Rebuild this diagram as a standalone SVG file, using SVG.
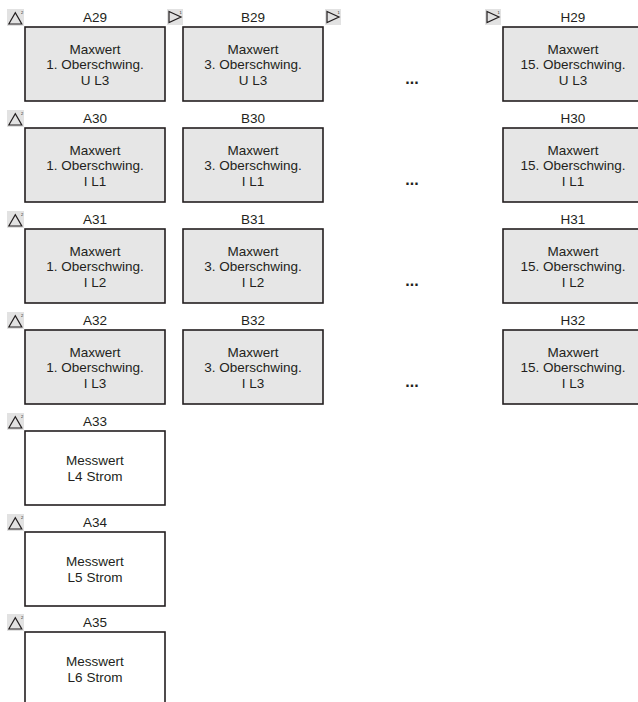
<svg xmlns="http://www.w3.org/2000/svg" width="638" height="702" viewBox="0 0 638 702">
<style>
.box{fill:#e6e6e6;stroke:#231f20;stroke-width:1.6}
.wbox{fill:#ffffff;stroke:#231f20;stroke-width:1.6}
.t{font-family:"Liberation Sans",Arial,sans-serif;font-size:13.5px;fill:#231f20;text-anchor:middle}
.lbl{font-family:"Liberation Sans",Arial,sans-serif;font-size:13.5px;fill:#231f20;text-anchor:middle}
.dots{font-family:"Liberation Sans",Arial,sans-serif;font-size:16px;font-weight:bold;fill:#231f20;text-anchor:middle}
.ibg{fill:#e2e2e2}
.tri{fill:none;stroke:#231f20;stroke-width:1.2}
.sup{font-family:"Liberation Sans",Arial,sans-serif;font-size:4px;fill:#231f20}
</style>
<defs>
<g id="up"><rect class="ibg" x="0" y="0" width="17" height="17"/><path class="tri" d="M1.8,15 L8.3,3.8 L14.8,15 Z"/><text class="sup" x="14" y="5">2</text></g>
<g id="rt"><rect class="ibg" x="0" y="0" width="16" height="16"/><path class="tri" d="M2,2.5 L14,8 L2,13.5 Z"/><text class="sup" x="12.5" y="5">1</text></g>
</defs>
<rect width="638" height="702" fill="#ffffff"/>
<g id="icons">
<use href="#up" x="7" y="9"/><use href="#rt" x="167" y="9"/><use href="#rt" x="325" y="9"/><use href="#rt" x="485" y="9"/>
<use href="#up" x="7" y="110"/><use href="#up" x="7" y="211"/><use href="#up" x="7" y="312"/><use href="#up" x="7" y="413"/><use href="#up" x="7" y="514"/><use href="#up" x="7" y="614"/>
</g>
<g id="A29"><text class="lbl" x="95" y="22">A29</text><rect class="box" x="25" y="27" width="140" height="74"/><text class="t" x="95" y="53.5">Maxwert</text><text class="t" x="95" y="69">1. Oberschwing.</text><text class="t" x="95" y="84.5">U L3</text></g>
<g id="B29"><text class="lbl" x="253" y="22">B29</text><rect class="box" x="183" y="27" width="140" height="74"/><text class="t" x="253" y="53.5">Maxwert</text><text class="t" x="253" y="69">3. Oberschwing.</text><text class="t" x="253" y="84.5">U L3</text></g>
<g id="H29"><text class="lbl" x="573" y="22">H29</text><rect class="box" x="503" y="27" width="140" height="74"/><text class="t" x="573" y="53.5">Maxwert</text><text class="t" x="573" y="69">15. Oberschwing.</text><text class="t" x="573" y="84.5">U L3</text></g>
<text class="dots" x="412" y="84">...</text>
<g id="A30"><text class="lbl" x="95" y="123">A30</text><rect class="box" x="25" y="128" width="140" height="74"/><text class="t" x="95" y="154.5">Maxwert</text><text class="t" x="95" y="170">1. Oberschwing.</text><text class="t" x="95" y="185.5">I L1</text></g>
<g id="B30"><text class="lbl" x="253" y="123">B30</text><rect class="box" x="183" y="128" width="140" height="74"/><text class="t" x="253" y="154.5">Maxwert</text><text class="t" x="253" y="170">3. Oberschwing.</text><text class="t" x="253" y="185.5">I L1</text></g>
<g id="H30"><text class="lbl" x="573" y="123">H30</text><rect class="box" x="503" y="128" width="140" height="74"/><text class="t" x="573" y="154.5">Maxwert</text><text class="t" x="573" y="170">15. Oberschwing.</text><text class="t" x="573" y="185.5">I L1</text></g>
<text class="dots" x="412" y="185">...</text>
<g id="A31"><text class="lbl" x="95" y="224">A31</text><rect class="box" x="25" y="229" width="140" height="74"/><text class="t" x="95" y="255.5">Maxwert</text><text class="t" x="95" y="271">1. Oberschwing.</text><text class="t" x="95" y="286.5">I L2</text></g>
<g id="B31"><text class="lbl" x="253" y="224">B31</text><rect class="box" x="183" y="229" width="140" height="74"/><text class="t" x="253" y="255.5">Maxwert</text><text class="t" x="253" y="271">3. Oberschwing.</text><text class="t" x="253" y="286.5">I L2</text></g>
<g id="H31"><text class="lbl" x="573" y="224">H31</text><rect class="box" x="503" y="229" width="140" height="74"/><text class="t" x="573" y="255.5">Maxwert</text><text class="t" x="573" y="271">15. Oberschwing.</text><text class="t" x="573" y="286.5">I L2</text></g>
<text class="dots" x="412" y="286">...</text>
<g id="A32"><text class="lbl" x="95" y="325">A32</text><rect class="box" x="25" y="330" width="140" height="74"/><text class="t" x="95" y="356.5">Maxwert</text><text class="t" x="95" y="372">1. Oberschwing.</text><text class="t" x="95" y="387.5">I L3</text></g>
<g id="B32"><text class="lbl" x="253" y="325">B32</text><rect class="box" x="183" y="330" width="140" height="74"/><text class="t" x="253" y="356.5">Maxwert</text><text class="t" x="253" y="372">3. Oberschwing.</text><text class="t" x="253" y="387.5">I L3</text></g>
<g id="H32"><text class="lbl" x="573" y="325">H32</text><rect class="box" x="503" y="330" width="140" height="74"/><text class="t" x="573" y="356.5">Maxwert</text><text class="t" x="573" y="372">15. Oberschwing.</text><text class="t" x="573" y="387.5">I L3</text></g>
<text class="dots" x="412" y="387">...</text>
<g id="A33"><text class="lbl" x="95" y="426">A33</text><rect class="wbox" x="25" y="431" width="140" height="74"/><text class="t" x="95" y="465">Messwert</text><text class="t" x="95" y="481">L4 Strom</text></g>
<g id="A34"><text class="lbl" x="95" y="527">A34</text><rect class="wbox" x="25" y="532" width="140" height="74"/><text class="t" x="95" y="566">Messwert</text><text class="t" x="95" y="582">L5 Strom</text></g>
<g id="A35"><text class="lbl" x="95" y="627">A35</text><rect class="wbox" x="25" y="632" width="140" height="74"/><text class="t" x="95" y="666">Messwert</text><text class="t" x="95" y="682">L6 Strom</text></g>
<g id="connectors"/>
</svg>
